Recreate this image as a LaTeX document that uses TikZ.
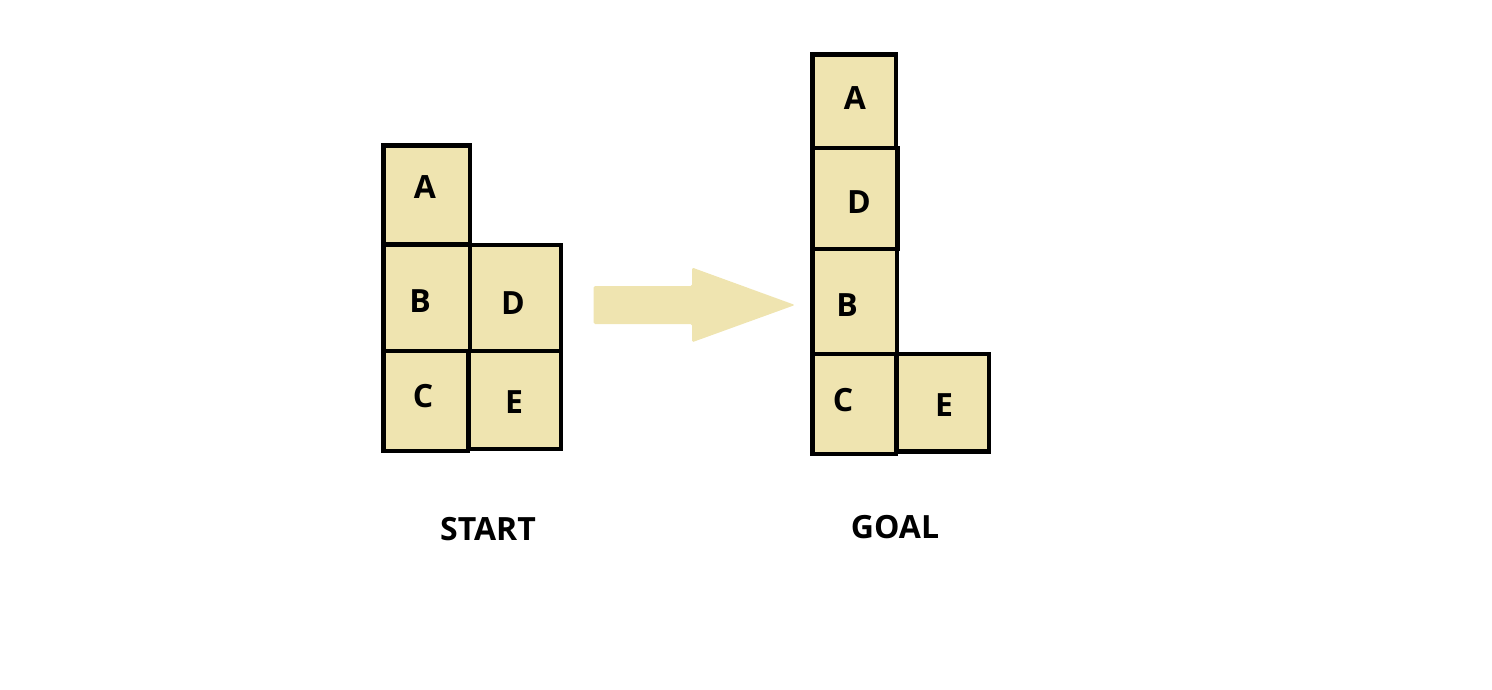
\documentclass[tikz,border=0pt]{standalone}
\usepackage{fontspec}
\setmainfont{Open Sans}
\definecolor{tan}{RGB}{239,228,176}
\tikzset{
  blk/.style={fill=tan,draw=black,line width=4.5pt},
  lbl/.style={font=\fontsize{32}{38}\selectfont\bfseries,inner sep=0pt,text=black},
  bigarrow/.style={fill=tan,draw=none,rounded corners=1.5pt}
}
\begin{document}
\begin{tikzpicture}[x=1pt,y=-1pt]
\useasboundingbox (0,0) rectangle (1492,690);
% START stack
\draw[blk] (383.5,145.5) rectangle (470,244.5);
\draw[blk] (383.5,244.5) rectangle (470,351);
\draw[blk] (470,245) rectangle (561,351);
\draw[blk] (383.5,351) rectangle (468,451);
\draw[blk] (469,351) rectangle (561,449);
\node[lbl] (sA) at (425,187) {A};
\node[lbl] (sB) at (420,301) {B};
\node[lbl] (sD) at (513,303) {D};
\node[lbl] (sC) at (423,396) {C};
\node[lbl] (sE) at (514,402) {E};
% arrow
\fill[bigarrow] (593.5,286) -- (692,286) -- (692,267.5) -- (795,305) -- (692,342.3) -- (692,324) -- (593.5,324) -- cycle;
% GOAL stack
\draw[blk] (812.5,54.5) rectangle (896,148);
\draw[blk] (812.5,148) rectangle (897.5,249);
\draw[blk] (812.5,249) rectangle (897,354);
\draw[blk] (812.5,354) rectangle (896,454);
\draw[blk] (897,354) rectangle (989,451.5);
\node[lbl] (gA) at (855,98) {A};
\node[lbl] (gD) at (859,202) {D};
\node[lbl] (gB) at (847,305) {B};
\node[lbl] (gC) at (843,400) {C};
\node[lbl] (gE) at (944,405) {E};
% titles
\node[lbl] (start) at (488,529) {START};
\node[lbl] (goal) at (895,527) {GOAL};
\end{tikzpicture}
\end{document}
